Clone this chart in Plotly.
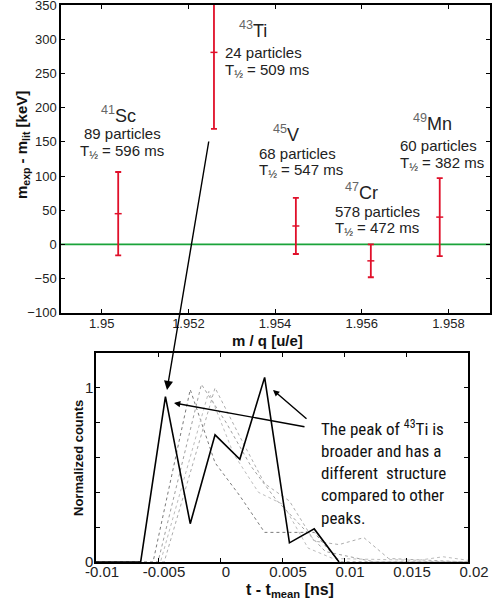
import plotly.graph_objects as go

# ---------------- data: top panel ----------------
mass_numbers = [41, 43, 45, 47, 49]
elements = ["Sc", "Ti", "V", "Cr", "Mn"]
particles = [89, 24, 68, 578, 60]
half_lives_ms = [596, 509, 547, 472, 382]
mq_values = [1.95038, 1.95259, 1.95448, 1.95621, 1.95780]
dm_values = [45, 281, 27, -24, 40]
dm_errors = [61, 112, 41, 24, 57]

x_tickvals = [1.950, 1.952, 1.954, 1.956, 1.958]
x_ticktext = ["1.95", "1.952", "1.954", "1.956", "1.958"]
y_tickvals = [-100, -50, 0, 50, 100, 150, 200, 250, 300, 350]

# ---------------- data: bottom panel ----------------
ti_t = [-0.0100, -0.0064, -0.0044, -0.0024, -0.0004, 0.0016, 0.0036, 0.0056, 0.0076, 0.0096]
ti_counts = [0, 0, 0.95, 0.22, 0.73, 0.59, 1.06, 0.11, 0.19, 0]

ref_t = [
    [-0.0100, -0.0054, -0.0024, -0.0004, 0.0016, 0.0036, 0.0056, 0.0076, 0.0096, 0.0200],
    [-0.0100, -0.0050, -0.0015, 0.0005, 0.0025, 0.0045, 0.0065, 0.0085, 0.0105, 0.0125, 0.0200],
    [-0.0100, -0.0045, -0.0004, 0.0016, 0.0036, 0.0056, 0.0076, 0.0096, 0.0116, 0.0136, 0.0200],
    [-0.0100, -0.0048, -0.0009, 0.0011, 0.0031, 0.0051, 0.0071, 0.0091, 0.0160, 0.0180, 0.0200],
]
ref_counts = [
    [0, 0, 0.99, 0.57, 0.38, 0.17, 0.17, 0.17, 0, 0],
    [0, 0, 1.02, 0.80, 0.55, 0.36, 0.21, 0.06, 0.03, 0, 0],
    [0, 0, 1.00, 0.72, 0.45, 0.35, 0.12, 0.10, 0.14, 0.02, 0],
    [0, 0, 0.98, 0.62, 0.40, 0.33, 0.08, 0.02, 0.01, 0.03, 0.01],
]
ref_colors = ["#7a7a7a", "#a0a0a0", "#adadad", "#bdbdbd"]

W, H = 500, 603


def px(x, y):
    return x / W, 1 - y / H


fig = go.Figure()

# top panel: mass deviations
fig.add_trace(go.Scatter(
    x=mq_values, y=dm_values, mode="markers",
    marker=dict(symbol="line-ew", size=5, color="#e0102a",
                line=dict(color="#e0102a", width=1.5)),
    error_y=dict(type="data", array=dm_errors, color="#e0102a", thickness=1.8, width=3),
    xaxis="x", yaxis="y", showlegend=False, cliponaxis=True,
))
fig.add_shape(type="line", xref="x domain", yref="y", x0=0, x1=1, y0=0, y1=0,
              line=dict(color="#1aa33a", width=1.8), layer="below")

# bottom panel: peak shapes
for t, c, col in zip(ref_t, ref_counts, ref_colors):
    fig.add_trace(go.Scatter(x=t, y=c, mode="lines", xaxis="x2", yaxis="y2",
                             line=dict(color=col, width=1.0, dash="dot"), showlegend=False))
fig.add_trace(go.Scatter(x=ti_t, y=ti_counts, mode="lines", xaxis="x2", yaxis="y2",
                         line=dict(color="black", width=1.6), showlegend=False))

axis_common = dict(showline=True, linecolor="black", linewidth=1.5, mirror="allticks",
                   ticks="inside", ticklen=4, tickcolor="black", showgrid=False,
                   zeroline=False, automargin=False, ticklabeloverflow="allow")

fig.update_layout(
    template="none",
    width=W, height=H, autosize=False,
    margin=dict(l=0, r=0, t=0, b=0, pad=0),
    paper_bgcolor="white", plot_bgcolor="white",
    font=dict(family="Liberation Sans, Arial, sans-serif", color="#222", size=13),
    xaxis=dict(domain=[61 / W, 490 / W], range=[1.94906, 1.95896],
               tickvals=x_tickvals, ticktext=x_ticktext, anchor="y",
               tickfont=dict(size=13), ticklabelstandoff=-2, **axis_common),
    yaxis=dict(domain=[1 - 313 / H, 1 - 5 / H], range=[-100.3, 350.3],
               tickvals=y_tickvals, anchor="x", tickfont=dict(size=13), **axis_common),
    xaxis2=dict(domain=[96 / W, 468 / W], range=[-0.01, 0.02],
                tickvals=[-0.01, -0.005, 0, 0.005, 0.01, 0.015, 0.02],
                ticktext=["-0.01", "-0.005", "0", "0.005", "0.01", "0.015", "0.02"],
                anchor="y2", tickfont=dict(size=15), ticklabelstandoff=-5,
                ticklabelshift=6, **axis_common),
    yaxis2=dict(domain=[1 - 562 / H, 1 - 353 / H], range=[0, 1.2],
                tickvals=[0, 0.2, 0.4, 0.6, 0.8, 1.0],
                ticktext=["0", "", "", "", "", "1"],
                anchor="x2", tickfont=dict(size=15), ticklabelstandoff=-2, **axis_common),
)

ann = []
# axis titles
x, y = px(267, 340)
ann.append(dict(x=x, y=y, text="<b>m / q [u/e]</b>", font=dict(size=15, color="#111")))
x, y = px(22, 145)
ann.append(dict(x=x, y=y, text="<b>m<sub>exp</sub> - m<sub>lit</sub> [keV]</b>",
                textangle=-90, font=dict(size=15, color="#111")))
x, y = px(290, 590)
ann.append(dict(x=x, y=y, text="<b>t - t<sub>mean</sub> [ns]</b>", font=dict(size=16, color="#111")))
x, y = px(78, 458)
ann.append(dict(x=x, y=y, text="<b>Normalized counts</b>", textangle=-90,
                font=dict(size=13, color="#111")))

# nuclide labels (positions in pixels)
head_pos = [(118, 114), (253, 29), (286, 133), (361, 191), (432, 123)]
line1_pos = [(122, 133, "center"), (223, 52, "left"), (257, 153, "left"),
             (333, 211, "left"), (398, 145, "left")]
line2_gap = 16
for a, el, n, th, hp, lp in zip(mass_numbers, elements, particles, half_lives_ms,
                                  head_pos, line1_pos):
    x, y = px(*hp)
    ann.append(dict(x=x, y=y, text=f"<span style='color:#666'><sup>{a}</sup></span>{el}",
                    font=dict(size=18, color="#222")))
    x, y = px(lp[0], lp[1])
    ann.append(dict(x=x, y=y, xanchor=lp[2], text=f"{n} particles",
                    font=dict(size=15, color="#222")))
    x, y = px(lp[0], lp[1] + line2_gap + 2)
    ann.append(dict(x=x, y=y, xanchor=lp[2], text=f"T<sub>½</sub> = {th} ms",
                    font=dict(size=15, color="#222")))

# explanatory text
x, y = px(319, 472)
ann.append(dict(x=x, y=y, xanchor="left", align="left",
                text="The peak of <sup>43</sup>Ti is<br>broader and has a<br>different  structure"
                     "<br>compared to other<br>peaks.",
                font=dict(size=17, color="#111",
                          family="Liberation Sans Narrow, Arial Narrow, Roboto Condensed, Liberation Sans")))

# arrows
for head, tail, size in [((167, 390), (209, 140), 1.3), ((174, 403), (306, 427), 0.9),
                         ((273, 390), (308, 420), 0.9)]:
    x, y = px(*head)
    ann.append(dict(x=x, y=y, text="", showarrow=True, arrowhead=2, arrowsize=size,
                    arrowwidth=1.4, arrowcolor="black", xanchor="center", yanchor="middle",
                    ax=tail[0] - head[0], ay=tail[1] - head[1], axref="pixel", ayref="pixel"))

for a in ann:
    a.setdefault("xref", "paper")
    a.setdefault("yref", "paper")
    a.setdefault("showarrow", False)
    a.setdefault("xanchor", "center")
    a.setdefault("yanchor", "middle")
fig.update_layout(annotations=ann)

fig.write_html("out.html", config={"displayModeBar": False},
               post_script="document.body.style.margin='0';document.body.style.overflow='hidden';")
